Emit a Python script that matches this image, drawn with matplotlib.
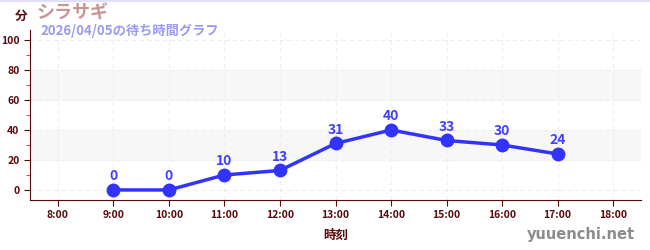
import numpy as np
import matplotlib
matplotlib.use("Agg")
import matplotlib.pyplot as plt
from matplotlib.ticker import MultipleLocator

plt.rcParams['font.family'] = ['Noto Sans CJK JP', 'DejaVu Sans']

hours = [9, 10, 11, 12, 13, 14, 15, 16, 17]
waits = [0, 0, 10, 13, 31, 40, 33, 30, 24]
tick_hours = list(range(8, 19))
tick_labels = [f"{h}:00" for h in tick_hours]
title = "シラサギ"
subtitle = "2026/04/05の待ち時間グラフ"

DARK = "#5a0a0a"
BLUE = "#3333ff"

fig = plt.figure(figsize=(6.5, 2.5), dpi=100)
ax = fig.add_axes([30/650, 50/250, 611/650, 170/250])

ax.set_xlim(7.5, 18.5)
ax.set_ylim(-6.7, 106.7)

for lo, hi in [(20, 40), (60, 80)]:
    ax.axhspan(lo, hi, color="#f7f7f7", zorder=0)

ax.set_xticks(tick_hours)
ax.set_xticklabels(tick_labels)
ax.set_yticks([0, 20, 40, 60, 80, 100])
ax.yaxis.set_minor_locator(MultipleLocator(10))
ax.grid(True, which="major", color="#eeeeee", linestyle=(0, (4, 3)), linewidth=0.8)
ax.set_axisbelow(True)

ax.plot(hours, waits, color=BLUE, linewidth=2.5, marker="o", markersize=9, zorder=3)
for h, w in zip(hours, waits):
    ax.annotate(f"{w}", (h, w), xytext=(0, 5), textcoords="offset points",
                ha="center", va="bottom", fontsize=10, fontweight="bold", color="#4040ff")

for s in ["top", "right"]:
    ax.spines[s].set_visible(False)
ax.spines["left"].set_color(DARK)
ax.spines["bottom"].set_color(DARK)
ax.tick_params(axis="both", which="major", colors=DARK, labelsize=7.5, length=4)
ax.tick_params(axis="y", which="minor", colors="#dd2222", length=3)
for lab in ax.get_xticklabels() + ax.get_yticklabels():
    lab.set_fontweight("bold")

ax.set_xlabel("時刻", fontsize=9, fontweight="bold", color=DARK, labelpad=6)

fig.text(15/650, 1 - 16/250, "分", fontsize=9, fontweight="bold", color=DARK, va="center")
fig.text(37/650, 1 - 13/250, title, fontsize=13, fontweight="bold", color="#c89595", va="center")
fig.text(40/650, 1 - 31/250, subtitle, fontsize=9.5, fontweight="bold", color="#9a9af0", va="center")
fig.text(635/650, 1 - 234/250, "yuuenchi.net", fontsize=10.5, fontweight="bold", color="#8c8c8c",
         ha="right", va="center", family=["DejaVu Sans"])

fig.add_artist(plt.Line2D([0, 1], [0.998, 0.998], color="#e0e0f8", linewidth=1.5))

fig.savefig("out.png", dpi=100)
